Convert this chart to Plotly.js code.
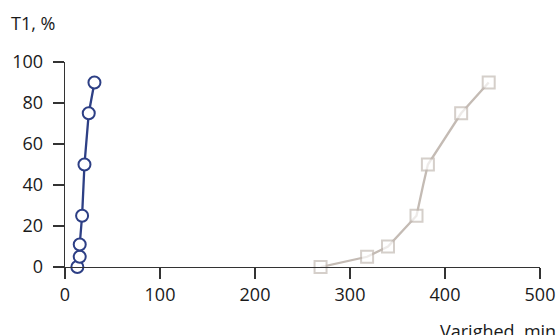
<!DOCTYPE html>
<html>
<head>
<meta charset="utf-8">
<script src="https://cdn.plot.ly/plotly-3.0.1.min.js"></script>
<style>html,body{margin:0;padding:0;background:#fff;}#chart{width:557px;height:335px;}</style>
</head>
<body>
<div id="chart"></div>
<script>
// Series A (blue circles)
var blueX = [13, 15.5, 15.5, 18, 20.5, 25, 31];
var blueY = [0, 5, 11, 25, 50, 75, 90];
// Series B (grey squares); the 40% point is a bend in the line without a marker
var greyX = [269, 318, 340, 370, 377, 382, 417, 446];
var greyY = [0, 5, 10, 25, 40, 50, 75, 90];
var greyMarked = [true, true, true, true, false, true, true, true];

var xTicks = [0, 100, 200, 300, 400, 500];
var yTicks = [0, 20, 40, 60, 80, 100];
var yTitle = 'T1, %';
var xTitle = 'Varighed, min';

var font = 'Open Sans, sans-serif';
var txt = '#1a1a1a';
var blue = '#2d3f85';
var grey = '#c4bbb4';

var traces = [
  {
    x: greyX, y: greyY, type: 'scatter', mode: 'lines+markers', cliponaxis: false,
    line: {color: grey, width: 2.3},
    marker: {symbol: 'square', size: greyMarked.map(function(m){return m ? 12 : 0;}),
             color: '#ffffff', line: {color: grey, width: 2}},
    hoverinfo: 'skip'
  },
  {
    x: blueX, y: blueY, type: 'scatter', mode: 'lines+markers', cliponaxis: false,
    line: {color: blue, width: 2.3},
    marker: {symbol: 'circle', size: 12, color: '#ffffff', line: {color: blue, width: 2}},
    hoverinfo: 'skip'
  }
];

var L = 65, R = 17, T = 62, B = 68;
var pw = 557 - L - R, ph = 335 - T - B;

var layout = {
  width: 557, height: 335,
  margin: {l: L, r: R, t: T, b: B},
  paper_bgcolor: '#ffffff', plot_bgcolor: '#ffffff',
  showlegend: false,
  font: {family: font, size: 18, color: txt},
  xaxis: {
    range: [0, 500], tickvals: xTicks, ticktext: xTicks.map(String),
    showgrid: false, zeroline: false, showline: true, linecolor: '#333333', linewidth: 1.3,
    ticks: 'outside', ticklen: 11, tickwidth: 1.3, tickcolor: '#333333',
    ticklabelstandoff: 0,
    tickfont: {family: font, size: 18, color: txt}
  },
  yaxis: {
    range: [0, 100], tickvals: yTicks, ticktext: yTicks.map(String),
    showgrid: false, zeroline: false, showline: true, linecolor: '#333333', linewidth: 1.3,
    ticks: 'outside', ticklen: 11, tickwidth: 1.3, tickcolor: '#333333',
    ticklabelstandoff: 6,
    tickfont: {family: font, size: 18, color: txt}
  },
  annotations: [
    {text: yTitle, xref: 'paper', yref: 'paper', x: (9 - L) / pw, y: (335 - B - 23) / ph,
     xanchor: 'left', yanchor: 'middle', showarrow: false,
     font: {family: font, size: 18, color: txt}},
    {text: xTitle, xref: 'paper', yref: 'paper', x: (558 - L) / pw, y: (335 - B - 317) / ph,
     xanchor: 'right', yanchor: 'top', showarrow: false,
     font: {family: font, size: 18, color: txt}}
  ]
};

Plotly.newPlot('chart', traces, layout, {displayModeBar: false, staticPlot: true});
</script>
</body>
</html>
